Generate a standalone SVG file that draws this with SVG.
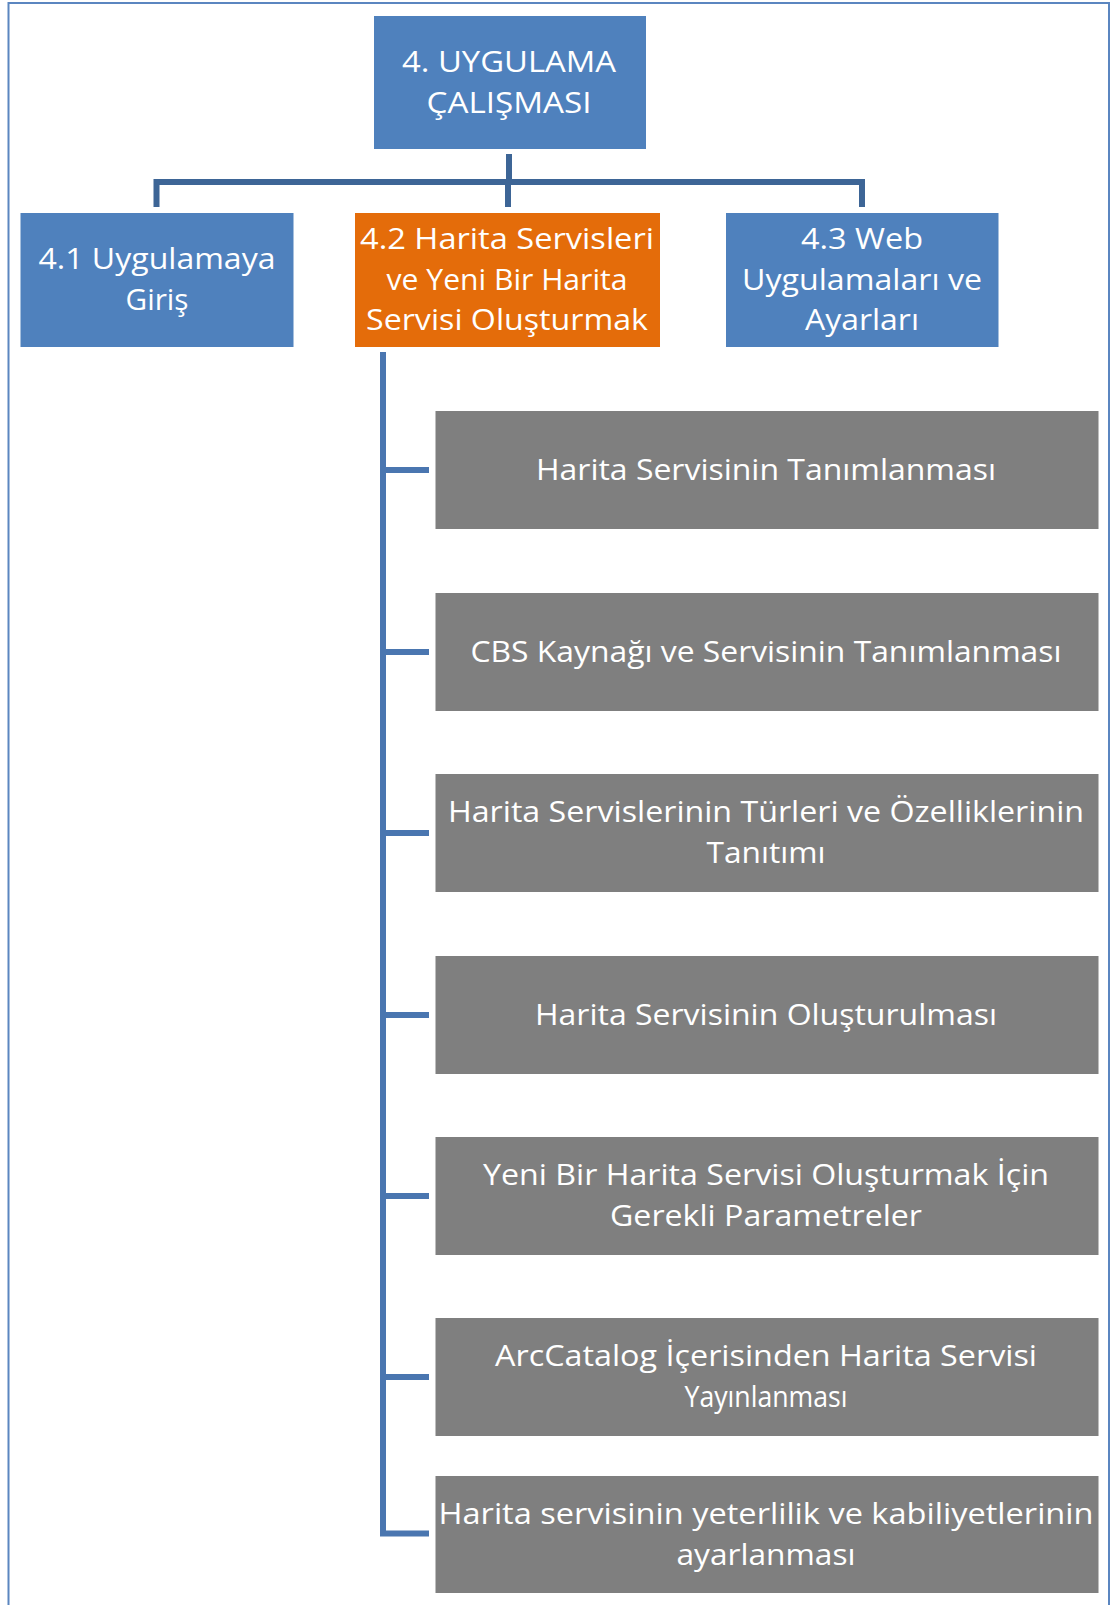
<svg xmlns="http://www.w3.org/2000/svg" width="1113" height="1605" viewBox="0 0 1113 1605">
<style>
.t{font-family:"Open Sans","Noto Sans","Liberation Sans",sans-serif;font-size:30px;fill:#fff;text-anchor:middle}
.blue{fill:#4f81bd}
.orange{fill:#e46c0a}
.gray{fill:#7f7f7f}
.c{stroke:#3d6596;stroke-width:6;fill:none;stroke-linecap:butt}
.c2{stroke:#4a76b0;stroke-width:6;fill:none;stroke-linecap:butt}
</style>
<rect x="8.5" y="3" width="1100.5" height="1700" fill="none" stroke="#5b86c0" stroke-width="2"/>
<g id="connectors">
<path class="c" d="M509 154V182M153.5 182H865M156.5 179V207M508 182V207M862 179V207"/>
<path class="c2" d="M383 352V1536.5M380 470H429M380 652H429M380 833H429M380 1015H429M380 1196H429M380 1377H429M380 1533.5H429"/>
</g>
<g id="n4"><rect class="blue" x="374" y="16" width="272" height="133"/>
<text class="t" x="509" y="72" textLength="214" lengthAdjust="spacingAndGlyphs">4. UYGULAMA</text>
<text class="t" x="509" y="113" textLength="165" lengthAdjust="spacingAndGlyphs">ÇALIŞMASI</text></g>
<g id="n41"><rect class="blue" x="20.5" y="213" width="273" height="134"/>
<text class="t" x="157" y="269" textLength="237" lengthAdjust="spacingAndGlyphs">4.1 Uygulamaya</text>
<text class="t" x="157" y="310" textLength="63" lengthAdjust="spacingAndGlyphs">Giriş</text></g>
<g id="n42"><rect class="orange" x="355" y="213" width="305" height="134"/>
<text class="t" x="507" y="249" textLength="294" lengthAdjust="spacingAndGlyphs">4.2 Harita Servisleri</text>
<text class="t" x="507" y="289.5" textLength="241" lengthAdjust="spacingAndGlyphs">ve Yeni Bir Harita</text>
<text class="t" x="507" y="330" textLength="282" lengthAdjust="spacingAndGlyphs">Servisi Oluşturmak</text></g>
<g id="n43"><rect class="blue" x="726" y="213" width="272.5" height="134"/>
<text class="t" x="862" y="249" textLength="122" lengthAdjust="spacingAndGlyphs">4.3 Web</text>
<text class="t" x="862" y="289.5" textLength="240" lengthAdjust="spacingAndGlyphs">Uygulamaları ve</text>
<text class="t" x="862" y="330" textLength="114" lengthAdjust="spacingAndGlyphs">Ayarları</text></g>
<g id="g1"><rect class="gray" x="435.5" y="411" width="663" height="118"/>
<text class="t" x="766" y="480" textLength="460" lengthAdjust="spacingAndGlyphs">Harita Servisinin Tanımlanması</text></g>
<g id="g2"><rect class="gray" x="435.5" y="593" width="663" height="118"/>
<text class="t" x="766" y="662" textLength="591" lengthAdjust="spacingAndGlyphs">CBS Kaynağı ve Servisinin Tanımlanması</text></g>
<g id="g3"><rect class="gray" x="435.5" y="774" width="663" height="118"/>
<text class="t" x="766" y="822" textLength="636" lengthAdjust="spacingAndGlyphs">Harita Servislerinin Türleri ve Özelliklerinin</text>
<text class="t" x="766" y="863" textLength="119" lengthAdjust="spacingAndGlyphs">Tanıtımı</text></g>
<g id="g4"><rect class="gray" x="435.5" y="956" width="663" height="118"/>
<text class="t" x="766" y="1025" textLength="462" lengthAdjust="spacingAndGlyphs">Harita Servisinin Oluşturulması</text></g>
<g id="g5"><rect class="gray" x="435.5" y="1137" width="663" height="118"/>
<text class="t" x="766" y="1185" textLength="566" lengthAdjust="spacingAndGlyphs">Yeni Bir Harita Servisi Oluşturmak İçin</text>
<text class="t" x="766" y="1226" textLength="312" lengthAdjust="spacingAndGlyphs">Gerekli Parametreler</text></g>
<g id="g6"><rect class="gray" x="435.5" y="1318" width="663" height="118"/>
<text class="t" x="766" y="1366" textLength="542" lengthAdjust="spacingAndGlyphs">ArcCatalog İçerisinden Harita Servisi</text>
<text class="t" x="766" y="1407" textLength="163" lengthAdjust="spacingAndGlyphs">Yayınlanması</text></g>
<g id="g7"><rect class="gray" x="435.5" y="1476" width="663" height="117"/>
<text class="t" x="766" y="1524" textLength="655" lengthAdjust="spacingAndGlyphs">Harita servisinin yeterlilik ve kabiliyetlerinin</text>
<text class="t" x="766" y="1565" textLength="179" lengthAdjust="spacingAndGlyphs">ayarlanması</text></g>
</svg>
